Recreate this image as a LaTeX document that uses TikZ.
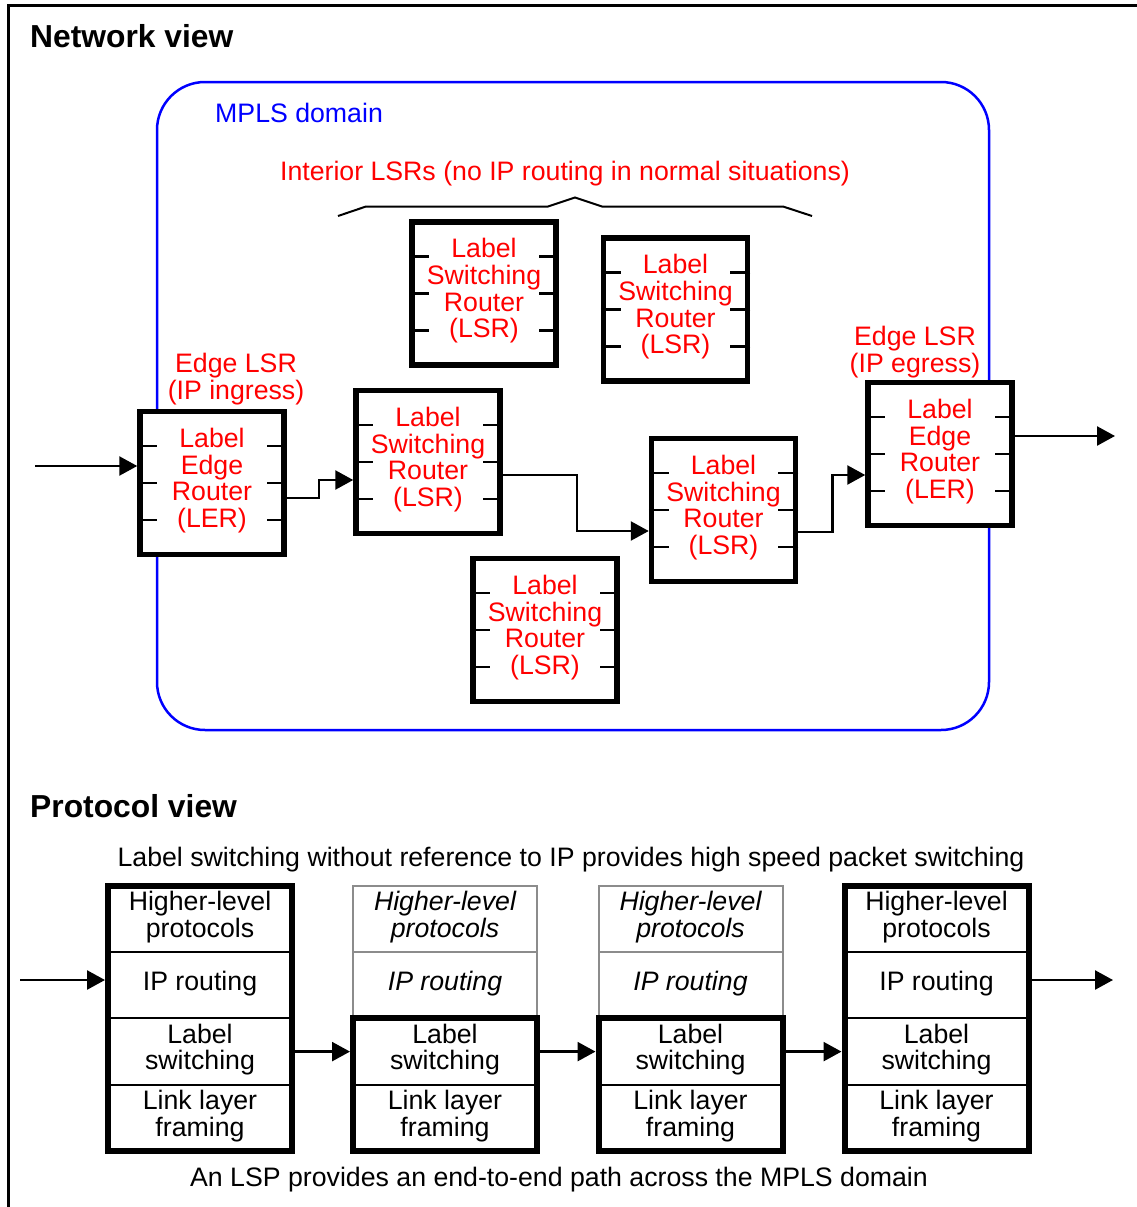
\documentclass[tikz,border=0pt]{standalone}
\usepackage{fontspec}
\setmainfont{Liberation Sans}
\usetikzlibrary{positioning, arrows.meta, calc}

\definecolor{mplsred}{RGB}{255,0,0}
\definecolor{mplsblue}{RGB}{0,0,255}
\definecolor{layergray}{RGB}{140,140,140}

\begin{document}
\begin{tikzpicture}[
  x=1pt, y=-1pt,
  >={Triangle[length=18pt, width=19pt]},
  every node/.style={font=\fontsize{26.7}{26.7}\selectfont},
  heading/.style   = {font=\fontsize{31.8}{33}\selectfont\bfseries, anchor=west, inner sep=0pt},
  note/.style      = {anchor=base, inner sep=0pt},
  redtext/.style   = {text=mplsred, align=center, inner sep=0pt},
  mplsarea/.style  = {draw=mplsblue, line width=2.5pt, rounded corners=48pt},
  router/.style    = {draw, line width=5.5pt, fill=white, minimum width=144pt, minimum height=143pt,
                      align=center, text=mplsred, inner sep=0pt, text depth=10.5pt},
  tick/.style      = {line width=2.5pt},
  link/.style      = {->, line width=2.5pt},
  layer/.style     = {draw, line width=2pt, minimum width=184pt, minimum height=66.25pt,
                      inner sep=0pt, outer sep=0pt, align=center, text depth=9.5pt},
  edgelayer/.style = {layer},
  corelayer/.style = {layer, draw=layergray, font=\fontsize{26.7}{26.7}\selectfont\itshape},
  stackbox/.style  = {draw, line width=6pt},
]
  \useasboundingbox (0,0) rectangle (1137,1207);
  \draw[line width=3pt] (8,1207) -- (8,6) -- (1137,6);

  % network view
  \node[heading] (netview) at (30,36) {Network view};
  \draw[mplsarea] (157,82) rectangle (989,730);
  \node[anchor=base west, text=mplsblue, inner sep=0pt] (mplslabel) at (215,122) {MPLS domain};
  \node[note, text=mplsred] (interior) at (565,180.5) {Interior LSRs (no IP routing in normal situations)};
  \draw[line width=2pt] (338,216) -- (366,206.5) -- (548,206.5) -- (575,197.5) -- (602,206.5) -- (783,206.5) -- (812,216);

  \node[router] (ler1) at (212,483)   {Label\\Edge\\Router\\(LER)};
  \node[router] (lsr1) at (484,293.5) {Label\\Switching\\Router\\(LSR)};
  \node[router] (lsr2) at (675.5,309.5) {Label\\Switching\\Router\\(LSR)};
  \node[router] (lsr3) at (428,462)   {Label\\Switching\\Router\\(LSR)};
  \node[router] (lsr4) at (723.5,510) {Label\\Switching\\Router\\(LSR)};
  \node[router] (lsr5) at (545,630)   {Label\\Switching\\Router\\(LSR)};
  \node[router] (ler2) at (940,454)   {Label\\Edge\\Router\\(LER)};

  \foreach \rt in {ler1, lsr1, lsr2, lsr3, lsr4, lsr5, ler2}
    \foreach \fr in {0.25, 0.5, 0.75} {
      \draw[tick] ($(\rt.north west)!\fr!(\rt.south west)$) -- ++(20,0);
      \draw[tick] ($(\rt.north east)!\fr!(\rt.south east)$) -- ++(-20,0);
    }

  \node[redtext, above=4pt of ler1, xshift=24pt]  (ingress) {Edge LSR\\(IP ingress)};
  \node[redtext, above=2pt of ler2, xshift=-25pt] (egress)  {Edge LSR\\(IP egress)};

  \coordinate (nin)  at (35,466);
  \coordinate (nout) at (1115,436);
  \draw[link] (nin) -- (nin -| ler1.west);
  \draw[link] ($(ler1.east)+(0,15)$) -- ++(32,0) |- ($(lsr3.west)+(0,18)$);
  \draw[link] ($(lsr3.east)+(0,13)$) -- ++(74,0) |- ($(lsr4.west)+(0,21)$);
  \draw[link] ($(lsr4.east)+(0,22)$) -- ++(34,0) |- ($(ler2.west)+(0,21)$);
  \draw[link] ($(ler2.east)+(0,-18)$) -- (nout);

  % protocol view
  \node[heading] (protoview) at (30,806) {Protocol view};
  \node[note] (fastnote) at (571,866.5) {Label switching without reference to IP provides high speed packet switching};

  \foreach \i/\x/\kind in {1/200/edgelayer, 2/445/corelayer, 3/690.5/corelayer, 4/936.5/edgelayer} {
    \node[\kind] (hl\i) at (\x,919.1) {Higher-level\\protocols};
    \node[\kind, below=0pt of hl\i] (ip\i) {IP routing};
    \node[edgelayer, below=0pt of ip\i] (ls\i) {Label\\switching};
    \node[edgelayer, below=0pt of ls\i] (ll\i) {Link layer\\framing};
  }
  \foreach \i/\top in {1/hl1, 2/ls2, 3/ls3, 4/hl4}
    \draw[stackbox] (\top.north west) rectangle (ll\i.south east);

  \coordinate (pin)  at (20,980);
  \coordinate (pout) at (1113,980);
  \draw[link, shorten >=3pt] (pin) -- (pin -| ip1.west);
  \draw[link, shorten <=3pt] (pout -| ip4.east) -- (pout);
  \foreach \a/\b in {1/2, 2/3, 3/4}
    \draw[link, shorten <=3pt, shorten >=3pt] (ls\a.east) -- (ls\b.west);

  \node[note] (lspnote) at (559,1186.5) {An LSP provides an end-to-end path across the MPLS domain};
\end{tikzpicture}
\end{document}
